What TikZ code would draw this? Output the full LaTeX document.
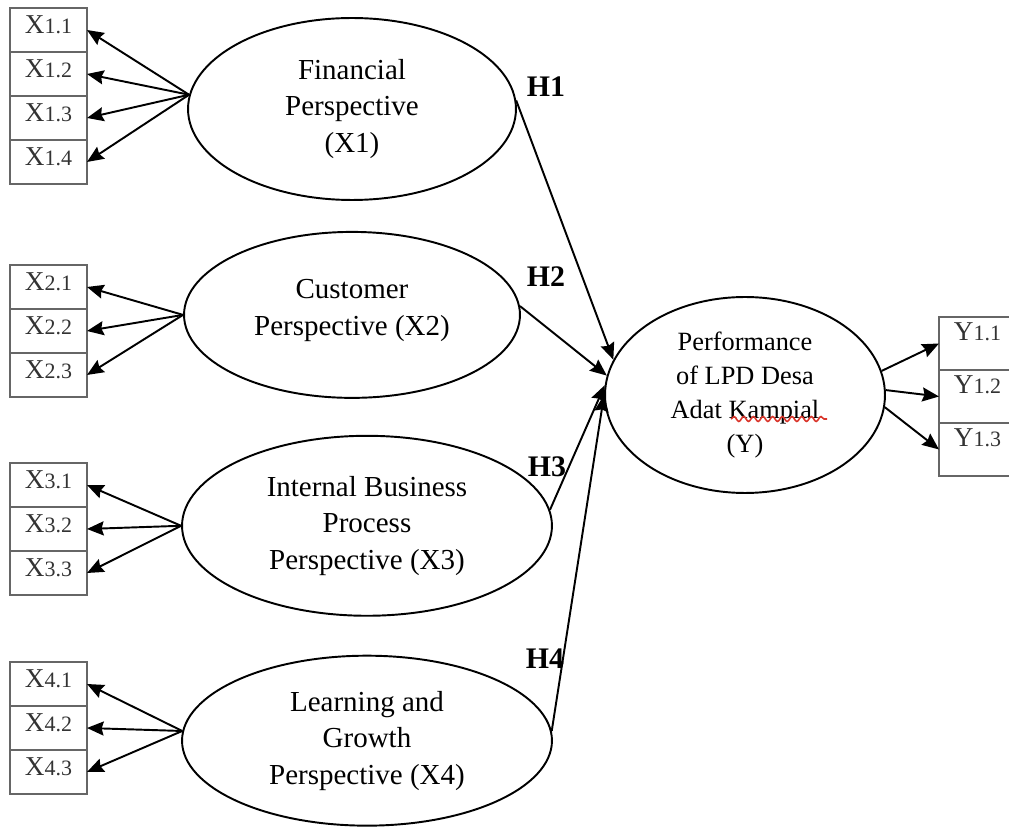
\documentclass[tikz,border=0pt]{standalone}
\usepackage{fontspec}
\setmainfont{Liberation Serif}
\usepackage{xcolor}
\usetikzlibrary{positioning,shapes.geometric,arrows.meta,decorations.pathmorphing}

\definecolor{spellred}{HTML}{D9352B}
\newcommand{\indlabel}[2]{{\fontsize{15.5}{18}\selectfont #1}{\fontsize{12.5}{14}\selectfont #2}}

\begin{document}
\begin{tikzpicture}[%
    x=0.02cm,
    y=-0.02cm,
    ->,
    line width=1.1pt,
    >={Stealth[length=9.5pt,width=8pt,inset=1.2pt]},
    latent/.style={%
      ellipse,
      draw,
      inner sep=0pt,
      align=center,
      font=\fontsize{16.5}{20.7}\selectfont
    },
    item/.style={%
      rectangle,
      draw=black!60,
      line width=0.9pt,
      outer sep=0pt,
      inner sep=0pt,
      minimum width=1.54cm,
      minimum height=0.88cm,
      text height=0.35cm,
      text depth=0.2cm,
      text=black!80
    },
    itemy/.style={item, minimum height=1.06cm, text depth=0.45cm},
    hyp/.style={font=\fontsize{17}{20}\selectfont\bfseries}
  ]
    \useasboundingbox (0,0) rectangle (1009,831);
    \clip (0,0) rectangle (1009,831);

    % latent variables
    \node[latent, minimum width=6.56cm, minimum height=3.64cm] (fin) at (352,109) {Financial\\Perspective\\(X1)};
    \node[latent, minimum width=6.72cm, minimum height=3.32cm, text depth=0.3cm] (cus) [below=0.6cm of fin] {Customer\\Perspective (X2)};
    \node[latent, minimum width=7.4cm, minimum height=3.6cm] (ibp) [below=0.72cm of cus, xshift=0.3cm] {Internal Business\\Process\\Perspective (X3)};
    \node[latent, minimum width=7.4cm, minimum height=3.4cm] (lgp) [below=0.76cm of ibp] {Learning and\\Growth\\Perspective (X4)};
    \node[latent, minimum width=5.6cm, minimum height=3.92cm, font=\fontsize{15}{19.3}\selectfont] (perf) at (745,395) {Performance\\of LPD Desa\\Adat Kampial\\(Y)};

    % indicators
    \node[item] (x11) at (48.5,30) {\indlabel{X}{1.1}};
    \node[item] (x12) [below=0pt of x11] {\indlabel{X}{1.2}};
    \node[item] (x13) [below=0pt of x12] {\indlabel{X}{1.3}};
    \node[item] (x14) [below=0pt of x13] {\indlabel{X}{1.4}};

    \node[item] (x21) at (48.5,287) {\indlabel{X}{2.1}};
    \node[item] (x22) [below=0pt of x21] {\indlabel{X}{2.2}};
    \node[item] (x23) [below=0pt of x22] {\indlabel{X}{2.3}};

    \node[item] (x31) at (48.5,485) {\indlabel{X}{3.1}};
    \node[item] (x32) [below=0pt of x31] {\indlabel{X}{3.2}};
    \node[item] (x33) [below=0pt of x32] {\indlabel{X}{3.3}};

    \node[item] (x41) at (48.5,684) {\indlabel{X}{4.1}};
    \node[item] (x42) [below=0pt of x41] {\indlabel{X}{4.2}};
    \node[item] (x43) [below=0pt of x42] {\indlabel{X}{4.3}};

    \node[itemy] (y11) at (977.5,343.5) {\indlabel{Y}{1.1}};
    \node[itemy] (y12) [below=0pt of y11] {\indlabel{Y}{1.2}};
    \node[itemy] (y13) [below=0pt of y12] {\indlabel{Y}{1.3}};

    % hypotheses
    \node[hyp] (h1) at (546,87)  {H1};
    \node[hyp] (h2) at (546,277) {H2};
    \node[hyp] (h3) at (547,467) {H3};
    \node[hyp] (h4) at (545,659) {H4};

    \path (fin.175) edge (x11.east)
          (fin.175) edge (x12.east)
          (fin.175) edge (x13.east)
          (fin.175) edge (x14.east)
          (cus.west) edge (x21.east)
          (cus.west) edge (x22.east)
          (cus.west) edge (x23.east)
          (ibp.west) edge (x31.east)
          (ibp.west) edge (x32.east)
          (ibp.west) edge (x33.east)
          (lgp.177) edge (x41.east)
          (lgp.177) edge (x42.east)
          (lgp.177) edge (x43.east)
          (perf.10) edge (y11.west)
          (perf.2)  edge (y12.west)
          (perf.-5) edge (y13.west)
          ;

    \path (fin.3) edge (perf.165)
          (cus.3) edge (perf.172)
          (ibp.5) edge (perf.176)
          (lgp.3) edge (perf.180)
          ;

    % spell-check squiggle
    \draw[-, spellred, line width=0.9pt, decorate, decoration={snake, amplitude=1.4pt, segment length=5.5pt}] (731,419) -- (827,419);
  \end{tikzpicture}
\end{document}
